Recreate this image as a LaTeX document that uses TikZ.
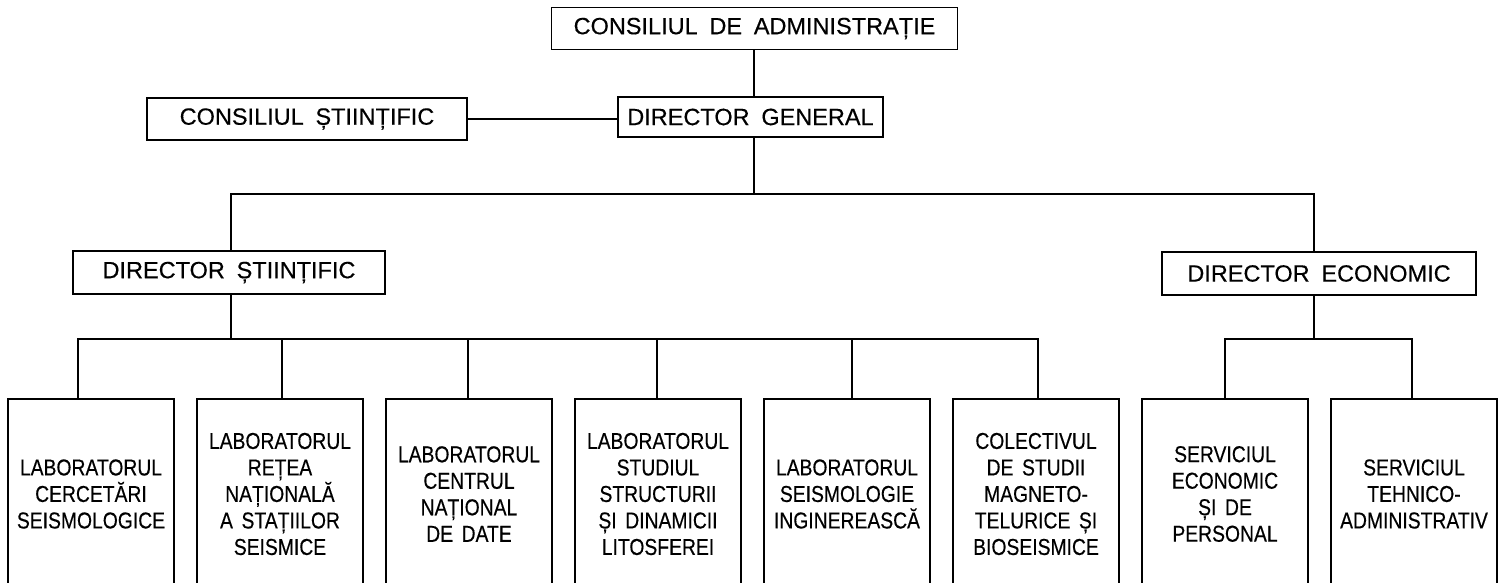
\documentclass[tikz,border=0pt]{standalone}
\usepackage{fontspec}
\setmainfont{Liberation Sans}
\newfontfamily\topfont[WordSpace=1.8,FakeBold=0.4]{Liberation Sans}
\newfontfamily\boxfont[FakeStretch=0.84,WordSpace=1.6,FakeBold=0.4]{Liberation Sans}
\begin{document}
\begin{tikzpicture}[x=1pt,y=-1pt,line width=1.9pt,
  hbox/.style={draw,inner sep=0pt,font=\topfont\fontsize{23.5}{26}\selectfont},
  lab/.style={draw,inner sep=0pt,minimum width=166pt,minimum height=190pt,align=center,
    font=\boxfont\fontsize{23}{26.5}\selectfont}]
\useasboundingbox (0,0) rectangle (1503,582);
\clip (0,0) rectangle (1503,582);
% top level
\node[hbox,minimum width=406pt,minimum height=42pt] (cda) at (754.5,28.5) {CONSILIUL DE ADMINISTRAȚIE};
\node[hbox,minimum width=265pt,minimum height=40pt] (dg) at (750.5,117) {DIRECTOR GENERAL};
\node[hbox,minimum width=320pt,minimum height=42pt] (cs) at (307,119) {CONSILIUL ȘTIINȚIFIC};
\node[hbox,minimum width=312pt,minimum height=43pt] (ds) at (229,272.5) {DIRECTOR ȘTIINȚIFIC};
\node[hbox,minimum width=314pt,minimum height=43pt] (de) at (1319,273.5) {DIRECTOR ECONOMIC};
% bottom boxes
\node[lab] (l1) at (91,494) {LABORATORUL\\CERCETĂRI\\SEISMOLOGICE};
\node[lab] (l2) at (280,494) {LABORATORUL\\REȚEA\\NAȚIONALĂ\\A STAȚIILOR\\SEISMICE};
\node[lab] (l3) at (469,494) {LABORATORUL\\CENTRUL\\NAȚIONAL\\DE DATE};
\node[lab] (l4) at (658,494) {LABORATORUL\\STUDIUL\\STRUCTURII\\ȘI DINAMICII\\LITOSFEREI};
\node[lab] (l5) at (847,494) {LABORATORUL\\SEISMOLOGIE\\INGINEREASCĂ};
\node[lab] (l6) at (1036,494) {COLECTIVUL\\DE STUDII\\MAGNETO-\\TELURICE ȘI\\BIOSEISMICE};
\node[lab] (l7) at (1225,494) {SERVICIUL\\ECONOMIC\\ȘI DE\\PERSONAL};
\node[lab] (l8) at (1414,494) {SERVICIUL\\TEHNICO-\\ADMINISTRATIV};
% bus levels
\coordinate (b1) at (0,194);
\coordinate (b2) at (0,339);
% connectors
\draw ([xshift=-0.5pt]cda.south) -- ([xshift=-0.5pt]cda.south |- dg.north);
\draw (cs.east) -- (cs.east -| dg.west);
\draw ([xshift=3.5pt]dg.south) -- ([xshift=3.5pt]dg.south |- b1);
\draw ([xshift=2pt]ds.north) |- ([xshift=-5pt]de.north |- b1) -- ([xshift=-5pt]de.north);
\draw ([xshift=2pt]ds.south) -- ([xshift=2pt]ds.south |- b2);
\draw ([xshift=-13pt]l1.north) |- ([xshift=2pt]l6.north |- b2) -- ([xshift=2pt]l6.north);
\draw ([xshift=2pt]l2.north) -- ([xshift=2pt]l2.north |- b2);
\draw ([xshift=-1pt]l3.north) -- ([xshift=-1pt]l3.north |- b2);
\draw ([xshift=-1pt]l4.north) -- ([xshift=-1pt]l4.north |- b2);
\draw ([xshift=5pt]l5.north) -- ([xshift=5pt]l5.north |- b2);
\draw ([xshift=-5pt]de.south) -- ([xshift=-5pt]de.south |- b2);
\draw (l7.north) |- ([xshift=-2pt]l8.north |- b2) -- ([xshift=-2pt]l8.north);
\end{tikzpicture}
\end{document}
